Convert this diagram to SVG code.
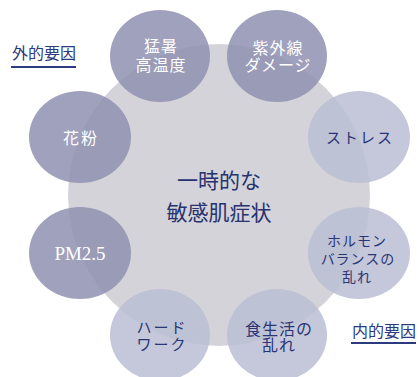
<svg xmlns="http://www.w3.org/2000/svg" width="418" height="377" viewBox="0 0 418 377">
<style>
.dark{fill:#8f90b0;fill-opacity:0.85}
.light{fill:#babed3;fill-opacity:0.85}
text{font-family:"Liberation Serif","Noto Sans CJK JP",serif;text-anchor:middle}
.w{fill:#ffffff;font-size:16px;letter-spacing:1px}
.n{fill:#2a3575;font-size:15px;letter-spacing:1px}
.c{fill:#27326e;font-size:21px}
.lab{fill:#2c3a7e;font-size:16px}
.ul{stroke:#2c3a7e;stroke-width:2}
</style>
<rect width="418" height="377" fill="#ffffff"/>
<g id="center">
<circle cx="219" cy="195" r="151" fill="#d4d3d9"/>
<text class="c" x="219" y="188">一時的な</text>
<text class="c" x="219" y="220">敏感肌症状</text>
</g>
<g id="heat">
<ellipse class="dark" cx="160" cy="56" rx="50" ry="46"/>
<text class="w" x="161" y="52">猛暑</text>
<text class="w" x="161" y="71">高温度</text>
</g>
<g id="uv">
<ellipse class="dark" cx="277" cy="56" rx="50" ry="46"/>
<text class="w" x="278" y="54">紫外線</text>
<text class="w" x="278" y="71">ダメージ</text>
</g>
<g id="pollen">
<ellipse class="dark" cx="80" cy="137" rx="51" ry="46"/>
<text class="w" x="81" y="144" style="letter-spacing:2px">花粉</text>
</g>
<g id="stress">
<ellipse class="light" cx="359" cy="137" rx="51" ry="46"/>
<text class="n" x="360" y="143" style="letter-spacing:2px">ストレス</text>
</g>
<g id="pm25">
<ellipse class="dark" cx="80" cy="253" rx="51" ry="46"/>
<text class="w" x="80" y="260" style="font-size:19px;letter-spacing:0">PM2.5</text>
</g>
<g id="hormone">
<ellipse class="light" cx="359" cy="253" rx="51" ry="46"/>
<text class="n" x="357" y="246" style="font-size:14px;letter-spacing:1px">ホルモン</text>
<text class="n" x="358" y="264" style="font-size:14px">バランスの</text>
<text class="n" x="357" y="282" style="font-size:14px">乱れ</text>
</g>
<g id="hardwork">
<ellipse class="light" cx="160" cy="335" rx="50" ry="46"/>
<text class="n" x="162" y="333" style="letter-spacing:2px">ハード</text>
<text class="n" x="162" y="350" style="letter-spacing:2px">ワーク</text>
</g>
<g id="diet">
<ellipse class="light" cx="277" cy="335" rx="50" ry="46"/>
<text class="n" x="279" y="335" style="font-size:16px;letter-spacing:1px">食生活の</text>
<text class="n" x="279" y="351" style="font-size:16px">乱れ</text>
</g>
<g id="label-external">
<text class="lab" x="44" y="59">外的要因</text>
<line class="ul" x1="11" y1="67" x2="76" y2="67"/>
</g>
<g id="label-internal">
<text class="lab" x="384" y="337">内的要因</text>
<line class="ul" x1="351" y1="343" x2="416" y2="343"/>
</g>
<g id="connectors"/>
</svg>
